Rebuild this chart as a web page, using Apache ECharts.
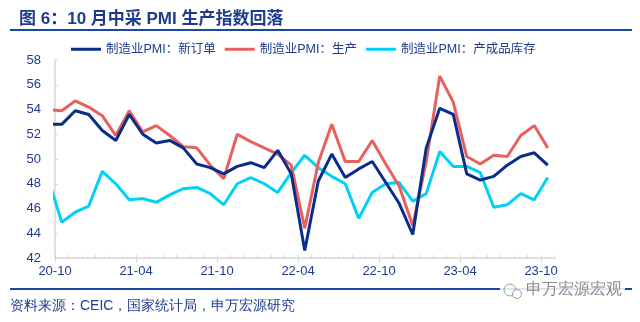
<!DOCTYPE html>
<html>
<head>
<meta charset="utf-8">
<script src="https://cdn.jsdelivr.net/npm/echarts@6/dist/echarts.min.js"></script>
<style>
  html, body { margin: 0; padding: 0; background: #fff; }
  #chart { width: 640px; height: 322px; }
</style>
</head>
<body>
<div id="chart"></div>
<script>
// Monthly observations, 2020-09 through 2023-10
const months = ['20-09','20-10','20-11','20-12','21-01','21-02','21-03','21-04','21-05','21-06','21-07','21-08','21-09','21-10','21-11','21-12','22-01','22-02','22-03','22-04','22-05','22-06','22-07','22-08','22-09','22-10','22-11','22-12','23-01','23-02','23-03','23-04','23-05','23-06','23-07','23-08','23-09','23-10'];

// 制造业PMI：新订单
const newOrders = [52.8,52.8,53.9,53.6,52.3,51.5,53.6,52.0,51.3,51.5,50.9,49.6,49.3,48.8,49.4,49.7,49.3,50.7,48.8,42.6,48.2,50.4,48.5,49.2,49.8,48.1,46.4,43.9,50.9,54.1,53.6,48.8,48.3,48.6,49.5,50.2,50.5,49.5];
// 制造业PMI：生产
const production = [54.0,53.9,54.7,54.2,53.5,51.9,53.9,52.2,52.7,51.9,51.0,50.9,49.5,48.4,52.0,51.4,50.9,50.4,49.5,44.4,49.7,52.8,49.8,49.8,51.5,49.6,47.8,44.6,49.8,56.7,54.6,50.2,49.6,50.3,50.2,51.9,52.7,50.9];
// 制造业PMI：产成品库存
const inventory = [48.4,44.9,45.7,46.2,49.0,48.0,46.7,46.8,46.5,47.1,47.6,47.7,47.2,46.3,48.0,48.5,48.0,47.3,48.9,50.3,49.3,48.6,48.0,45.2,47.3,48.0,48.1,46.6,47.2,50.6,49.4,49.4,48.9,46.1,46.3,47.2,46.7,48.5];

const yTicks = { min: 42, max: 58, step: 2 };

const NAVY = '#1f3c8c';
const FONT = '"Liberation Sans", Arial, "Noto Sans CJK SC", sans-serif';

// each month sits in the middle of its band; the axis starts at the 20-10 band edge
function toPoints(values) {
  return values.map((v, k) => [k - 0.5, v]);
}

const chart = echarts.init(document.getElementById('chart'), null, { renderer: 'canvas' });

chart.setOption({
  animation: false,
  textStyle: { fontFamily: FONT },
  title: {
    text: '图 6：10 月中采 PMI 生产指数回落',
    left: 14, top: 6,
    textStyle: { fontSize: 17, fontWeight: 'bold', color: NAVY, fontFamily: FONT }
  },
  legend: {
    left: 66, top: 38,
    icon: 'rect', itemWidth: 30, itemHeight: 3, itemGap: 9,
    textStyle: { fontSize: 12.5, color: NAVY, fontFamily: FONT },
    data: ['制造业PMI：新订单', '制造业PMI：生产', '制造业PMI：产成品库存']
  },
  grid: { left: 55, right: 85.5, top: 60, bottom: 64 },
  xAxis: [
    {
      type: 'value', min: 0, max: months.length - 1, interval: 1,
      position: 'bottom',
      axisLine: { show: true, lineStyle: { color: '#d6d6d6', width: 1.5 } },
      axisTick: { show: true, inside: true, length: 3, lineStyle: { color: '#d6d6d6' } },
      axisLabel: { show: false },
      splitLine: { show: false }
    },
    {
      type: 'value', min: 0, max: months.length - 1, interval: 6,
      position: 'bottom',
      axisLine: { show: false },
      axisTick: { show: true, length: 4, lineStyle: { color: '#d6d6d6' } },
      axisLabel: {
        show: true, showMaxLabel: false, margin: 7,
        fontSize: 13, color: NAVY, fontFamily: FONT,
        formatter: v => (v % 6 === 0 && months[v + 1]) ? months[v + 1] : ''
      },
      splitLine: { show: false }
    }
  ],
  yAxis: {
    type: 'value', min: yTicks.min, max: yTicks.max, interval: yTicks.step,
    axisLine: { show: true, lineStyle: { color: '#d6d6d6', width: 1.5 } },
    axisTick: { show: true, inside: true, length: 3, lineStyle: { color: '#d6d6d6' } },
    axisLabel: { fontSize: 13, color: NAVY, margin: 14, fontFamily: FONT },
    splitLine: { show: false }
  },
  series: [
    {
      name: '制造业PMI：产成品库存', type: 'line', data: toPoints(inventory),
      symbol: 'none', clip: true, z: 2,
      lineStyle: { color: '#00d2f7', width: 3 }, itemStyle: { color: '#00d2f7' }
    },
    {
      name: '制造业PMI：生产', type: 'line', data: toPoints(production),
      symbol: 'none', clip: true, z: 3,
      lineStyle: { color: '#e8605e', width: 3 }, itemStyle: { color: '#e8605e' }
    },
    {
      name: '制造业PMI：新订单', type: 'line', data: toPoints(newOrders),
      symbol: 'none', clip: true, z: 4,
      lineStyle: { color: '#0a2d8c', width: 3 }, itemStyle: { color: '#0a2d8c' }
    }
  ],
  graphic: [
    // rule under the title
    { type: 'line', shape: { x1: 10, y1: 30, x2: 632, y2: 30 }, style: { stroke: '#1a46a8', lineWidth: 2 } },
    // rule above the source note
    { type: 'line', shape: { x1: 10, y1: 289, x2: 632, y2: 289 }, style: { stroke: '#1a46a8', lineWidth: 2 } },
    {
      type: 'text', left: 10, top: 299,
      style: { text: '资料来源：CEIC，国家统计局，申万宏源研究', fontSize: 14, fill: NAVY, font: '14px ' + FONT }
    },
    // account mark at the lower right
    { type: 'rect', shape: { x: 500, y: 281, width: 125, height: 20 }, style: { fill: 'rgba(255,255,255,0.85)' } },
    { type: 'circle', shape: { cx: 510, cy: 290, r: 6 }, style: { fill: 'none', stroke: '#9a9a9a', lineWidth: 1 } },
    { type: 'circle', shape: { cx: 517, cy: 294, r: 4.5 }, style: { fill: '#fff', stroke: '#9a9a9a', lineWidth: 1 } },
    {
      type: 'text', left: 526, top: 282,
      style: { text: '申万宏源宏观', fontSize: 16, fill: '#8a8a8a', font: '16px "Noto Sans CJK SC", sans-serif' }
    }
  ]
});
</script>
</body>
</html>
